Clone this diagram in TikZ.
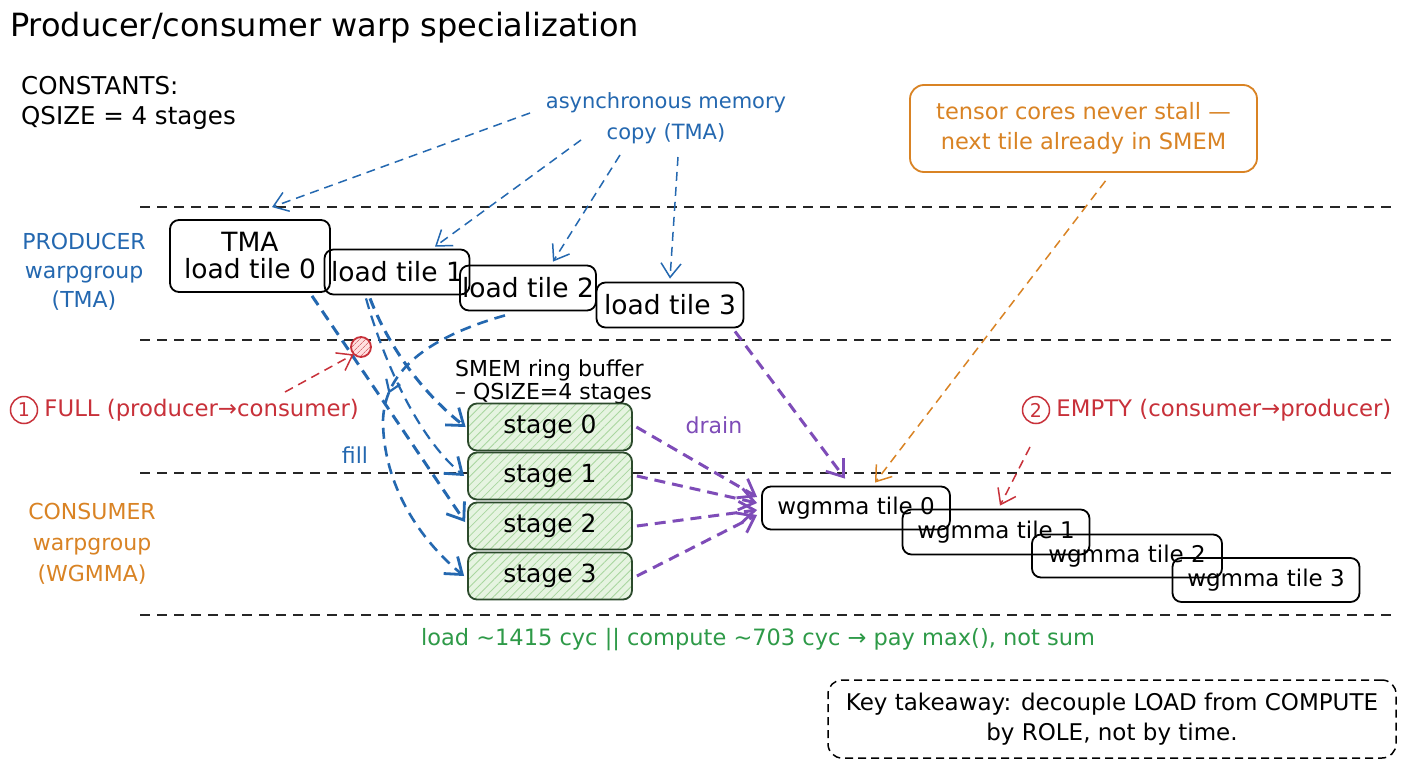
\documentclass[tikz,border=0pt]{standalone}
\usepackage{fontspec}
\setmainfont{DejaVu Sans}
\usetikzlibrary{arrows.meta,patterns.meta,decorations.markings,calc}
\definecolor{pblue}{HTML}{2468B0}
\definecolor{corange}{HTML}{D98324}
\definecolor{fred}{HTML}{C8313A}
\definecolor{dpurple}{HTML}{7E4CB8}
\definecolor{sgreen}{HTML}{2E9A48}
\definecolor{stfill}{HTML}{E6F4E1}
\definecolor{sthatch}{HTML}{A9D69F}
\definecolor{stborder}{HTML}{2C4A2C}
\newcommand\fsz[2]{\fontsize{#1}{#2}\selectfont}
\begin{document}
\begin{tikzpicture}[x=1pt,y=-1pt,
  tilebox/.style={draw=black,line width=1.8pt,rounded corners=9pt,inner sep=0pt,align=center,font=\fsz{26.5}{27}},
  wgbox/.style={draw=black,line width=1.8pt,rounded corners=9pt,inner sep=0pt,font=\fsz{23}{27}},
  stagebox/.style={draw=stborder,line width=1.8pt,rounded corners=9pt,preaction={fill=stfill},
     pattern={Lines[angle=45,distance=6pt,line width=0.8pt]},pattern color=sthatch,
     minimum width=164pt,minimum height=47pt,inner sep=0pt,font=\fsz{25}{30}},
  lane/.style={draw=black!85,line width=1.5pt,dash pattern=on 10pt off 7pt},
  thinarrow/.style={line width=1.5pt,dash pattern=on 9pt off 6pt,-{Straight Barb[length=14pt,width=20pt,line width=1.5pt]}},
  thickarrow/.style={line width=3pt,dash pattern=on 11pt off 7pt,-{Straight Barb[length=15pt,width=22pt,line width=2.8pt]}},
  lbl/.style={inner sep=0pt,align=center},
]
\useasboundingbox (0,0) rectangle (1408,768);
\fill[white] (0,0) rectangle (1408,768);

% lanes
\draw[lane] (140,207) -- (1395,207);
\draw[lane] (140,340) -- (1395,340);
\draw[lane] (140,473) -- (1395,473);
\draw[lane] (140,615) -- (1395,615);

% texts
\node[lbl,anchor=west,font=\fsz{32}{36}] (title) at (10,28) {Producer/consumer warp specialization};
\node[lbl,anchor=west,align=left,font=\fsz{24.5}{30}] (consts) at (21,103) {CONSTANTS:\\QSIZE = 4 stages};
\node[lbl,text=pblue,font=\fsz{22}{29}] (prodlbl) at (84,272) {PRODUCER\\warpgroup\\(TMA)};
\node[lbl,text=corange,font=\fsz{22}{31}] (conslbl) at (92,544) {CONSUMER\\warpgroup\\(WGMMA)};
\node[lbl,text=pblue,font=\fsz{21}{31}] (async) at (666,118) {asynchronous memory\\copy (TMA)};
\node[lbl,anchor=west,align=left,font=\fsz{22}{23}] (smemlbl) at (455,382) {SMEM ring buffer\\– QSIZE=4 stages};
\node[lbl,text=dpurple,font=\fsz{22}{25}] (drain) at (714,425) {drain};
\node[lbl,text=pblue,font=\fsz{22}{25}] (fill) at (355,455) {fill};
\node[circle,draw=fred,line width=1.5pt,minimum size=27pt,inner sep=0pt,text=fred,font=\fsz{19}{22}] (n1) at (24,410) {1};
\node[lbl,anchor=west,text=fred,font=\fsz{22.8}{26}] (fulltxt) at ([xshift=6pt]n1.east) {FULL (producer→consumer)};
\node[circle,draw=fred,line width=1.5pt,minimum size=27pt,inner sep=0pt,text=fred,font=\fsz{19}{22}] (n2) at (1036,410) {2};
\node[lbl,anchor=west,text=fred,font=\fsz{22.8}{26}] (emptytxt) at ([xshift=6pt]n2.east) {EMPTY (consumer→producer)};
\node[lbl,text=sgreen,font=\fsz{22.5}{25}] (cyc) at (758,640) {load \textasciitilde1415 cyc || compute \textasciitilde703 cyc → pay max(), not sum};

% callout boxes
\node[draw=corange,line width=1.8pt,rounded corners=14pt,minimum width=347pt,minimum height=87pt,inner sep=0pt,align=center,text=corange,font=\fsz{22.5}{30}] (tensor) at (1083.5,128.5) {tensor cores never stall —\\next tile already in SMEM};
\node[draw=black,line width=1.5pt,dash pattern=on 8pt off 5pt,rounded corners=14pt,minimum width=568pt,minimum height=78pt,inner sep=0pt,align=center,font=\fsz{23}{30}] (takeaway) at (1112,719) {Key takeaway: decouple LOAD from COMPUTE\\by ROLE, not by time.};

% producer tiles
\node[tilebox,minimum width=160pt,minimum height=72pt] (lt0) at (250,256) {TMA\\load tile 0};
\node[tilebox,minimum width=145pt,minimum height=45pt] (lt1) at (397,272) {load tile 1};
\node[tilebox,minimum width=136pt,minimum height=45pt] (lt2) at (528,288) {load tile 2};
\node[tilebox,minimum width=147pt,minimum height=45pt] (lt3) at (670,305) {load tile 3};

% stages
\node[stagebox] (st0) at (550,427) {stage 0};
\node[stagebox] (st1) at (550,476) {stage 1};
\node[stagebox] (st2) at (550,526) {stage 2};
\node[stagebox] (st3) at (550,576) {stage 3};

% consumer tiles
\node[wgbox,minimum width=188pt,minimum height=43pt] (wg0) at (856,508) {wgmma tile 0};
\node[wgbox,minimum width=187pt,minimum height=45pt] (wg1) at (996,532) {wgmma tile 1};
\node[wgbox,minimum width=190pt,minimum height=43pt] (wg2) at (1127,556) {wgmma tile 2};
\node[wgbox,minimum width=187pt,minimum height=44pt] (wg3) at (1266,580) {wgmma tile 3};

% red barrier circle
\node[circle,draw=fred,line width=1.8pt,minimum size=20pt,inner sep=0pt,preaction={fill=red!12},
  pattern={Lines[angle=45,distance=4pt,line width=0.7pt]},pattern color=fred!70] (rc) at (361,347) {};

% async copy arrows
\coordinate (as1) at (530,113);
\coordinate (as2) at (581,140);
\coordinate (as3) at (620,155);
\coordinate (as4) at (678,157);
\draw[thinarrow,pblue] (as1) -- ([xshift=22pt,yshift=12pt]lt0.north);
\draw[thinarrow,pblue] (as2) -- ([xshift=38pt,yshift=2pt]lt1.north);
\draw[thinarrow,pblue] (as3) -- ([xshift=25pt,yshift=3pt]lt2.north);
\draw[thinarrow,pblue] (as4) -- ([yshift=3pt]lt3.north);

% fill arrows
\draw[thickarrow,pblue] ([xshift=62pt,yshift=-3pt]lt0.south) -- ([xshift=-2pt,yshift=4pt]st2.west);
\draw[thickarrow,pblue] ([xshift=-27pt,yshift=-3pt]lt1.south) .. controls (390,350) and (425,395) .. ([xshift=-2pt]st0.west);
\draw[thickarrow,pblue,line width=2.2pt] ([xshift=-31pt,yshift=-3pt]lt1.south) .. controls (382,355) and (415,435) .. ([xshift=-3pt]st1.west);
\draw[thickarrow,pblue,line width=2.6pt,
  postaction={decorate,decoration={markings,mark=at position 0.41 with {\arrow{Straight Barb[length=11pt,width=15pt,line width=2.2pt]}}}}]
  ([xshift=-23pt,yshift=-4pt]lt2.south) .. controls (425,338) and (385,372) .. (383,420)
  .. controls (383,485) and (420,540) .. ([xshift=-3pt]st3.west);

% drain arrows
\draw[thickarrow,dpurple] ([xshift=65pt,yshift=-3pt]lt3.south) -- ([xshift=-11pt,yshift=7pt]wg0.north);
\draw[thickarrow,dpurple] ([xshift=4pt]st0.east) -- ([xshift=-4pt,yshift=11pt]wg0.west);
\draw[thickarrow,dpurple] ([xshift=4pt]st1.east) -- ([xshift=-4pt,yshift=5pt]wg0.west);
\draw[thickarrow,dpurple] ([xshift=4pt]st2.east) -- ([xshift=-4pt,yshift=-2pt]wg0.west);
\draw[thickarrow,dpurple] ([xshift=4pt]st3.east) -- ([xshift=-4pt,yshift=-7pt]wg0.west);

% orange callout arrow
\draw[thinarrow,corange] ([xshift=22pt,yshift=-8pt]tensor.south) -- ([xshift=19pt,yshift=3pt]wg0.north);

% red barrier arrows
\coordinate (fa) at (285,392);
\coordinate (ea) at (1030,447);
\draw[thinarrow,fred] (fa) -- (rc.south west);
\draw[thinarrow,fred] (ea) -- ([xshift=4pt,yshift=3pt]wg1.north);
\end{tikzpicture}
\end{document}
